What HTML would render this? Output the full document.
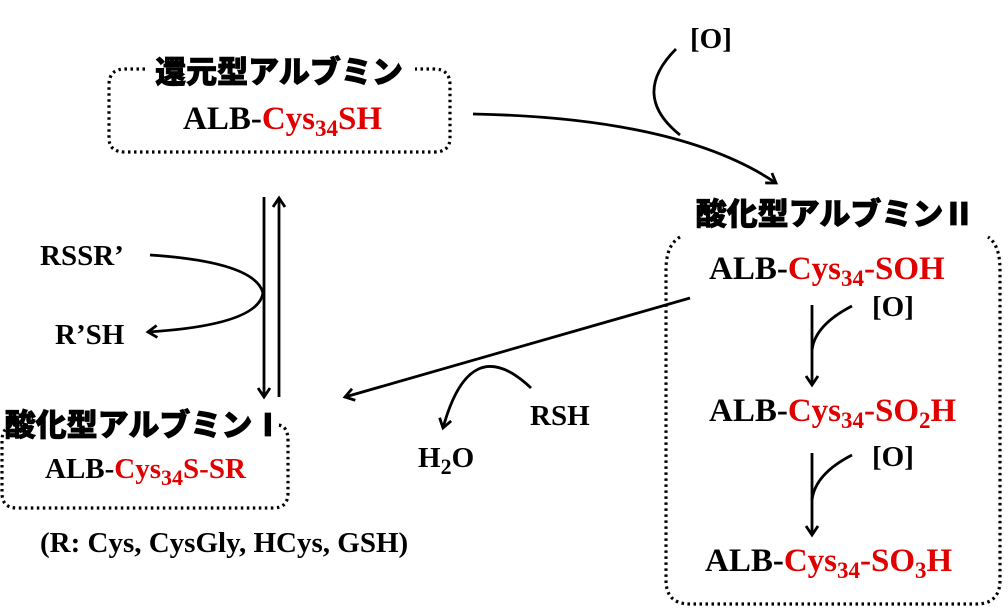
<!DOCTYPE html>
<html><head><meta charset="utf-8"><style>
html,body{margin:0;padding:0;background:#fff;}
svg{display:block;}
.t{font-family:"Liberation Serif",serif;font-weight:bold;font-size:29px;fill:#000;}
.f{font-size:33px;}
.j{font-family:"Liberation Sans","Noto Sans CJK JP",sans-serif;font-weight:900;font-size:31px;fill:#000;stroke:#000;stroke-width:0.8;}
.r{fill:#e00000;}
</style></head><body>
<svg width="1008" height="611" viewBox="0 0 1008 611" xmlns="http://www.w3.org/2000/svg">
<defs>
<marker id="a" markerWidth="14" markerHeight="14" refX="10" refY="7" orient="auto" markerUnits="userSpaceOnUse">
<path d="M1,1 L10,7 L1,13" fill="none" stroke="#000" stroke-width="2.8"/>
</marker>
</defs>
<g fill="none" stroke="#000" stroke-width="3.2" stroke-dasharray="2.5,3.5">
<path d="M145,69 H125 Q109,69 109,85 V138 Q109,152 125,152 H434 Q450,152 450,138 V85 Q450,69 434,69 H415"/>
<path d="M28,425 H17 Q2,425 2,441 V493 Q2,508 17,508 H273 Q288,508 288,493 V441 Q288,425 277,425"/>
<path d="M680,237 Q666,245 666,270 V580 Q666,604 690,604 H976 Q1000,604 1000,580 V270 Q1000,245 988,237"/>
</g>
<g fill="none" stroke="#000" stroke-width="2.8">
<path d="M473,114 Q680,118 776,183" marker-end="url(#a)"/>
<path d="M676,49 Q630,95 680,135"/>
<path d="M264,197 V397" marker-end="url(#a)"/>
<path d="M279,397 V198" marker-end="url(#a)"/>
<path d="M150,255 Q255,262 263,293 Q258,325 148,332" marker-end="url(#a)"/>
<path d="M690,298 L345,397" marker-end="url(#a)"/>
<path d="M531,388 Q470,330 443,428" marker-end="url(#a)"/>
<path d="M812,305 V385" marker-end="url(#a)"/>
<path d="M852,306 Q815,325 812,350"/>
<path d="M812,453 V535" marker-end="url(#a)"/>
<path d="M852,455 Q815,474 812,500"/>
</g>
<text class="j" x="279" y="83" text-anchor="middle">還元型アルブミン</text>
<text class="t f" x="183" y="129">ALB-<tspan class="r">Cys<tspan font-size="23" dy="7">34</tspan><tspan dy="-7">SH</tspan></tspan></text>
<text class="t" x="690" y="48">[O]</text>
<text class="j" x="835" y="225" text-anchor="middle">酸化型アルブミンⅡ</text>
<text class="t f" x="709" y="279">ALB-<tspan class="r">Cys<tspan font-size="23" dy="7">34</tspan><tspan dy="-7">-SOH</tspan></tspan></text>
<text class="t" x="872" y="316">[O]</text>
<text class="t f" x="709" y="421">ALB-<tspan class="r">Cys<tspan font-size="23" dy="7">34</tspan><tspan dy="-7">-SO</tspan><tspan font-size="23" dy="7">2</tspan><tspan dy="-7">H</tspan></tspan></text>
<text class="t" x="872" y="466">[O]</text>
<text class="t f" x="705" y="571">ALB-<tspan class="r">Cys<tspan font-size="23" dy="7">34</tspan><tspan dy="-7">-SO</tspan><tspan font-size="23" dy="7">3</tspan><tspan dy="-7">H</tspan></tspan></text>
<text class="t" x="40" y="265" font-size="33">RSSR’</text>
<text class="t" x="55" y="344" font-size="31">R’SH</text>
<text class="j" x="144" y="436" text-anchor="middle">酸化型アルブミンⅠ</text>
<text class="t" x="45" y="478" font-size="31">ALB-<tspan class="r">Cys<tspan font-size="22" dy="7">34</tspan><tspan dy="-7">S-SR</tspan></tspan></text>
<text class="t" x="40" y="552">(R: Cys, CysGly, HCys, GSH)</text>
<text class="t" x="530" y="425" font-size="32">RSH</text>
<text class="t" x="418" y="467" font-size="31">H<tspan font-size="22" dy="7">2</tspan><tspan dy="-7">O</tspan></text>
</svg>
</body></html>
